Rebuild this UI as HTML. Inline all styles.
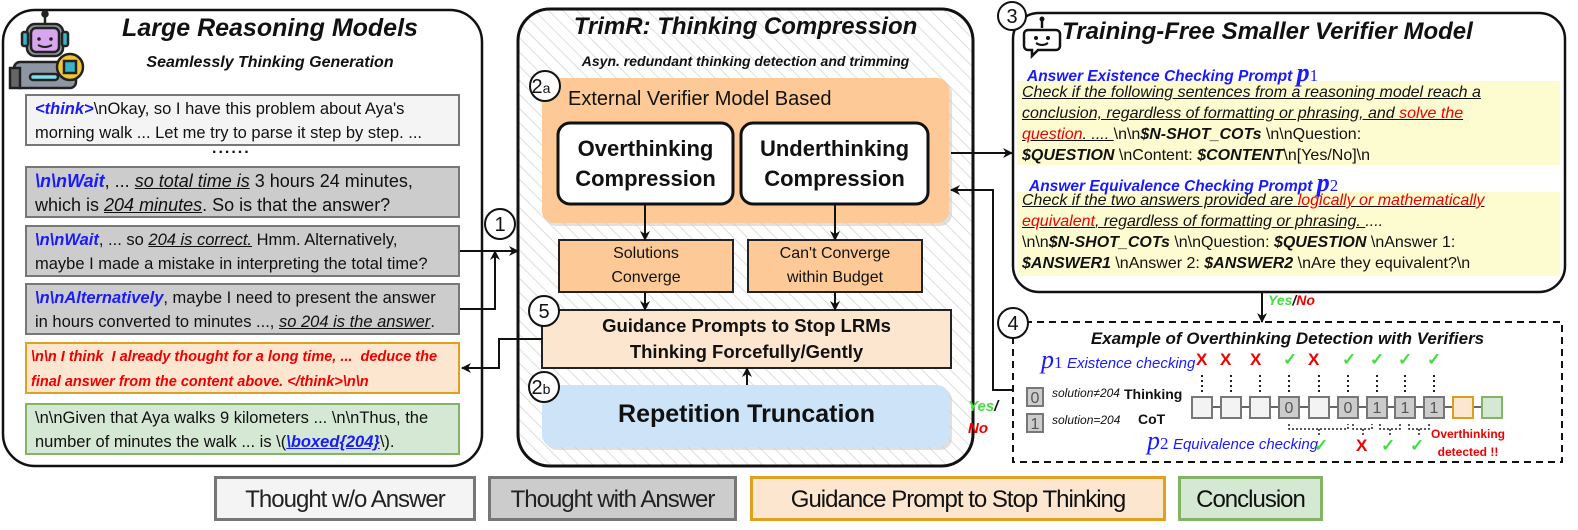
<!DOCTYPE html>
<html><head><meta charset="utf-8">
<style>
*{margin:0;padding:0;box-sizing:border-box}
body{width:1578px;height:530px;background:#fff;position:relative;overflow:hidden;font-family:"Liberation Sans",sans-serif;color:#111}
.a{position:absolute}
.bx{position:absolute;font-size:17px;line-height:24px;padding:1px 8px;border:2px solid #777;white-space:nowrap;overflow:hidden}
.bl{color:#1a1aff;font-weight:bold;font-style:italic}
.u{text-decoration:underline;font-style:italic}
.t{font-weight:bold;font-style:italic;white-space:nowrap}
.c{text-align:center}
.pr{font-size:16px;font-style:italic;line-height:21px;white-space:nowrap}
.rd{color:#e00}
.gr{color:#4d4}
.lg{position:absolute;top:476px;height:45px;font-size:24px;line-height:41px;text-align:center;color:#222;border:3px solid #777;letter-spacing:-1px}
.sm{font-size:15px;font-style:italic;white-space:nowrap}
</style></head><body>
<svg class="a" style="left:0;top:0" width="1578" height="530" viewBox="0 0 1578 530">
<defs>
<pattern id="h" width="10" height="10" patternUnits="userSpaceOnUse" patternTransform="rotate(-45)">
<line x1="0" y1="0" x2="0" y2="10" stroke="#ddd" stroke-width="2"/></pattern>
<marker id="ar" markerWidth="10" markerHeight="10" refX="9" refY="5" orient="auto" markerUnits="userSpaceOnUse"><path d="M0,0 L10,5 L0,10 L3,5z" fill="#111"/></marker>
</defs>
<rect x="3" y="10" width="479" height="456" rx="32" fill="#fff" stroke="#111" stroke-width="2.5"/>
<rect x="518" y="9" width="455" height="457" rx="32" fill="url(#h)" stroke="#111" stroke-width="3"/>
<rect x="545" y="81" width="407" height="145" rx="12" fill="#ccc" opacity=".6"/>
<rect x="542" y="78" width="407" height="145" rx="12" fill="#fcc997"/>
<rect x="558" y="123" width="175" height="81" rx="12" fill="#fff" stroke="#111" stroke-width="3"/>
<rect x="741" y="123" width="187" height="81" rx="12" fill="#fff" stroke="#111" stroke-width="3"/>
<rect x="559" y="240" width="174" height="52" fill="#fcc997" stroke="#222" stroke-width="2"/>
<rect x="748" y="240" width="174" height="52" fill="#fcc997" stroke="#222" stroke-width="2"/>
<rect x="542" y="310" width="409" height="58" fill="#fde6cf" stroke="#222" stroke-width="2"/>
<rect x="545" y="388" width="407" height="62" rx="12" fill="#ccc" opacity=".6"/>
<rect x="542" y="385" width="407" height="62" rx="12" fill="#cce3f8"/>
<g stroke="#111" stroke-width="2" fill="none" marker-end="url(#ar)">
<line x1="645" y1="204" x2="645" y2="240"/>
<line x1="835" y1="204" x2="835" y2="240"/>
<line x1="645" y1="292" x2="645" y2="310"/>
<line x1="835" y1="292" x2="835" y2="310"/>
<line x1="747" y1="385" x2="747" y2="368"/>
<polyline points="460,251 518,251"/>
<polyline points="460,309 495,309 495,251"/>
<polyline points="542,339 499,339 499,368 462,368"/>
<polyline points="951,153 1012,153"/>
<polyline points="1013,390 993,390 993,190 951,190"/>
<line x1="1262" y1="292" x2="1262" y2="322"/>
</g>
<rect x="1013" y="13" width="552" height="279" rx="26" fill="#fff" stroke="#111" stroke-width="2.5"/>
<rect x="1017" y="81" width="543" height="84" fill="#fdfbd0"/>
<rect x="1017" y="192" width="543" height="84" fill="#fdfbd0"/>
<rect x="1013" y="322" width="549" height="140" fill="none" stroke="#111" stroke-width="2" stroke-dasharray="7,5"/>
<g fill="#fff" stroke="#111" stroke-width="2">
<circle cx="500" cy="224" r="15"/><circle cx="545" cy="86" r="15"/><circle cx="544" cy="311" r="15"/>
<circle cx="544" cy="387" r="15"/><circle cx="1012" cy="16" r="14"/><circle cx="1013" cy="323" r="15"/>
</g>
<g font-family="Liberation Sans" font-size="20" text-anchor="middle" fill="#111">
<text x="500" y="231">1</text><text x="541" y="93">2<tspan font-size="14">a</tspan></text>
<text x="544" y="318">5</text><text x="541" y="394">2<tspan font-size="14">b</tspan></text>
<text x="1012" y="23">3</text><text x="1013" y="330">4</text>
</g>
<!-- robot LRM -->
<g stroke="#222" stroke-width="2.5">
<line x1="45" y1="14" x2="45" y2="24"/><circle cx="45" cy="14" r="2.5" fill="#222"/>
<rect x="27" y="24" width="36" height="32" rx="8" fill="#8f96a3"/>
<rect x="31" y="28" width="28" height="24" rx="5" fill="#d8a6ee"/>
<rect x="22" y="32" width="6" height="14" rx="2" fill="#39b3c7"/><rect x="62" y="32" width="6" height="14" rx="2" fill="#39b3c7"/>
<rect x="14" y="62" width="62" height="26" rx="6" fill="#8f96a3"/>
<rect x="10" y="68" width="10" height="20" fill="#666"/>
<rect x="30" y="74" width="28" height="6" rx="3" fill="#7ee0f0"/>
<circle cx="70" cy="67" r="13" fill="#f5c432"/><rect x="64" y="61" width="12" height="12" fill="#39b3c7"/>
</g>
<circle cx="39" cy="39" r="1.8" fill="#222"/><circle cx="51" cy="39" r="1.8" fill="#222"/>
<path d="M38 45 q7 4 14 0" stroke="#222" stroke-width="2" fill="none"/>
<!-- robot verifier -->
<g stroke="#111" stroke-width="2.5" fill="#fff">
<line x1="1042" y1="20" x2="1042" y2="28"/>
<path d="M1028 30 h28 a4 4 0 0 1 4 4 v12 a4 4 0 0 1 -4 4 h-18 l-6 6 v-6 h-4 a4 4 0 0 1 -4 -4 v-12 a4 4 0 0 1 4 -4z"/>
</g>
<circle cx="1042" cy="19" r="2.5" fill="#111"/><circle cx="1036" cy="38" r="2" fill="#111"/><circle cx="1048" cy="38" r="2" fill="#111"/>
<path d="M1036 43 q6 4 12 0" stroke="#111" stroke-width="2" fill="none"/>
<!-- chain -->
<line x1="1192" y1="407" x2="1502" y2="407" stroke="#666" stroke-width="2"/>
<g stroke="#777" stroke-width="2">
<rect x="1192" y="397" width="20" height="21" fill="#f3f3f3"/>
<rect x="1221" y="397" width="20" height="21" fill="#f3f3f3"/>
<rect x="1250" y="397" width="20" height="21" fill="#f3f3f3"/>
<rect x="1279" y="397" width="20" height="21" fill="#ccc"/>
<rect x="1309" y="397" width="20" height="21" fill="#f3f3f3"/>
<rect x="1338" y="397" width="20" height="21" fill="#ccc"/>
<rect x="1367" y="397" width="20" height="21" fill="#ccc"/>
<rect x="1395" y="397" width="20" height="21" fill="#ccc"/>
<rect x="1424" y="397" width="20" height="21" fill="#ccc"/>
<rect x="1453" y="397" width="20" height="21" fill="#fde6cf" stroke="#d9a020"/>
<rect x="1482" y="397" width="20" height="21" fill="#d5e8d4" stroke="#82b366"/>
<rect x="1027" y="388" width="16" height="18" fill="#ccc"/>
<rect x="1027" y="414" width="16" height="18" fill="#ccc"/>
</g>
<g font-size="16" text-anchor="middle" fill="#555" font-family="Liberation Sans">
<text x="1289" y="413">0</text><text x="1348" y="413">0</text><text x="1377" y="413">1</text><text x="1405" y="413">1</text><text x="1434" y="413">1</text>
<text x="1035" y="403">0</text><text x="1035" y="429">1</text>
</g>
<g stroke="#222" stroke-width="2" stroke-dasharray="2,3">
<line x1="1202" y1="375" x2="1202" y2="392"/><line x1="1231" y1="375" x2="1231" y2="392"/><line x1="1260" y1="375" x2="1260" y2="392"/>
<line x1="1289" y1="375" x2="1289" y2="392"/><line x1="1319" y1="375" x2="1319" y2="392"/><line x1="1348" y1="375" x2="1348" y2="392"/>
<line x1="1377" y1="375" x2="1377" y2="392"/><line x1="1405" y1="375" x2="1405" y2="392"/><line x1="1434" y1="375" x2="1434" y2="392"/>
</g>
<g stroke="#222" stroke-width="1.5" stroke-dasharray="2,2" fill="none">
<path d="M1289 424 v5 h59 v-5 M1319 429 v6"/>
<path d="M1353 424 v5 h19 v-5 M1363 429 v6"/>
<path d="M1380 424 v5 h20 v-5 M1390 429 v6"/>
<path d="M1409 424 v5 h20 v-5 M1419 429 v6"/>
</g>
</svg>

<div class="a t c" style="left:110px;top:14px;width:320px;font-size:25px">Large Reasoning Models</div>
<div class="a t c" style="left:110px;top:54px;width:320px;font-size:16px">Seamlessly Thinking Generation</div>
<div class="bx" style="left:25px;top:94px;width:435px;height:52px;background:#f4f4f4;font-size:16.5px"><span class="bl">&lt;think&gt;</span>\nOkay, so I have this problem about Aya's<br>morning walk ... Let me try to parse it step by step. ...</div>
<div class="a" style="left:212px;top:140px;font-size:16px;font-weight:bold;letter-spacing:2px">......</div>
<div class="bx" style="left:25px;top:166px;width:435px;height:52px;background:#ccc;font-size:18px"><span class="bl">\n\nWait</span>, ... <span class="u">so total time is</span> 3 hours 24 minutes,<br>which is <span class="u">204 minutes</span>. So is that the answer?</div>
<div class="bx" style="left:25px;top:225px;width:435px;height:52px;background:#ccc;font-size:16.5px"><span class="bl">\n\nWait</span>, ... so <span class="u">204 is correct.</span> Hmm. Alternatively,<br>maybe I made a mistake in interpreting the total time?</div>
<div class="bx" style="left:25px;top:283px;width:435px;height:52px;background:#ccc;font-size:16.5px"><span class="bl">\n\nAlternatively</span>, maybe I need to present the answer<br>in hours converted to minutes ..., <span class="u">so 204 is the answer</span>.</div>
<div class="bx" style="left:25px;top:342px;width:435px;height:52px;background:#fde6cf;border-color:#e0a020;color:#e00;font-weight:bold;font-style:italic;font-size:14.5px;line-height:25px;padding:1px 4px">\n\n I think&nbsp; I already thought for a long time, ...&nbsp; deduce the<br>final answer from the content above. &lt;/think&gt;\n\n</div>
<div class="bx" style="left:25px;top:403px;width:435px;height:52px;background:#d5e8d4;border-color:#82b366;font-size:16.5px">\n\nGiven that Aya walks 9 kilometers ... \n\nThus, the<br>number of minutes the walk ... is \(<span class="u" style="color:#1a1aff;font-weight:bold">\boxed{204}</span>\).</div>

<div class="a t c" style="left:518px;top:13px;width:455px;font-size:24px">TrimR: Thinking Compression</div>
<div class="a t c" style="left:518px;top:53px;width:455px;font-size:14px">Asyn. redundant thinking detection and trimming</div>
<div class="a" style="left:568px;top:88px;font-size:20px;white-space:nowrap">External Verifier Model Based</div>
<div class="a c" style="left:558px;top:134px;width:175px;font-size:22px;font-weight:bold;line-height:30px">Overthinking<br>Compression</div>
<div class="a c" style="left:741px;top:134px;width:187px;font-size:22px;font-weight:bold;line-height:30px">Underthinking<br>Compression</div>
<div class="a c" style="left:559px;top:242px;width:174px;font-size:16px;line-height:24px">Solutions<br>Converge</div>
<div class="a c" style="left:748px;top:242px;width:174px;font-size:16px;line-height:24px">Can't Converge<br>within Budget</div>
<div class="a c" style="left:542px;top:313px;width:409px;font-size:18.5px;font-weight:bold;line-height:26px">Guidance Prompts to Stop LRMs<br>Thinking Forcefully/Gently</div>
<div class="a c" style="left:542px;top:400px;width:409px;font-size:25px;font-weight:bold">Repetition Truncation</div>
<div class="a t" style="left:968px;top:396px;font-size:15px;line-height:22px"><span class="gr">Yes</span>/<br><span class="rd">No</span></div>

<div class="a t" style="left:1062px;top:18px;font-size:24px">Training-Free Smaller Verifier Model</div>
<div class="a t" style="left:1027px;top:58px;font-size:15.5px;color:#1a1aff">Answer Existence Checking Prompt <span style="font-family:'Liberation Serif';font-size:26px">p</span><span style="font-family:'Liberation Serif';font-style:normal;font-weight:normal;font-size:17px">1</span></div>
<div class="a pr" style="left:1022px;top:82px"><span style="text-decoration:underline">Check if the following sentences from a reasoning model reach a<br>conclusion, regardless of formatting or phrasing, and <span class="rd">solve the<br>question</span>. .... </span><span style="font-style:normal">\n\n</span><b>$N-SHOT_COTs</b><span style="font-style:normal"> \n\nQuestion:</span><br><b>$QUESTION</b><span style="font-style:normal"> \nContent: </span><b>$CONTENT</b><span style="font-style:normal">\n[Yes/No]\n</span></div>
<div class="a t" style="left:1029px;top:168px;font-size:15.5px;color:#1a1aff">Answer Equivalence Checking Prompt <span style="font-family:'Liberation Serif';font-size:26px">p</span><span style="font-family:'Liberation Serif';font-style:normal;font-weight:normal;font-size:17px">2</span></div>
<div class="a pr" style="left:1022px;top:190px"><span style="text-decoration:underline">Check if the two answers provided are <span class="rd">logically or mathematically<br>equivalent</span>, regardless of formatting or phrasing. </span>....<br><span style="font-style:normal">\n\n</span><b>$N-SHOT_COTs</b><span style="font-style:normal"> \n\nQuestion: </span><b>$QUESTION</b><span style="font-style:normal"> \nAnswer 1:</span><br><b>$ANSWER1</b><span style="font-style:normal"> \nAnswer 2: </span><b>$ANSWER2</b><span style="font-style:normal"> \nAre they equivalent?\n</span></div>
<div class="a t" style="left:1268px;top:292px;font-size:14px"><span class="gr">Yes</span>/<span class="rd">No</span></div>

<div class="a t c" style="left:1013px;top:329px;width:549px;font-size:17px">Example of Overthinking Detection with Verifiers</div>
<div class="a" style="left:1041px;top:345px;color:#1a1aff;white-space:nowrap"><span style="font-family:'Liberation Serif';font-style:italic;font-size:26px">p</span><span style="font-family:'Liberation Serif';font-size:17px">1</span> <span class="sm">Existence checking</span></div>
<div class="a" style="left:1147px;top:426px;color:#1a1aff;white-space:nowrap"><span style="font-family:'Liberation Serif';font-style:italic;font-size:26px">p</span><span style="font-family:'Liberation Serif';font-size:17px">2</span> <span class="sm">Equivalence checking</span></div>
<div class="a" style="left:1052px;top:386px;font-size:12px;font-style:italic">solution≠204</div>
<div class="a" style="left:1052px;top:413px;font-size:12px;font-style:italic">solution=204</div>
<div class="a" style="left:1124px;top:386px;font-size:14px;font-weight:bold">Thinking</div>
<div class="a" style="left:1138px;top:411px;font-size:14px;font-weight:bold">CoT</div>
<div class="a" style="left:0;top:350px;font-size:17px;font-weight:bold;line-height:20px">
<span class="a rd" style="left:1196px">X</span><span class="a rd" style="left:1220px">X</span><span class="a rd" style="left:1250px">X</span><span class="a gr" style="left:1283px">✓</span><span class="a rd" style="left:1308px">X</span><span class="a gr" style="left:1342px">✓</span><span class="a gr" style="left:1370px">✓</span><span class="a gr" style="left:1398px">✓</span><span class="a gr" style="left:1427px">✓</span>
</div>
<div class="a" style="left:0;top:436px;font-size:17px;font-weight:bold;line-height:20px">
<span class="a gr" style="left:1314px">✓</span><span class="a rd" style="left:1356px">X</span><span class="a gr" style="left:1381px">✓</span><span class="a gr" style="left:1410px">✓</span>
</div>
<div class="a rd c" style="left:1426px;top:425px;width:84px;font-size:12px;font-weight:bold;line-height:18px">Overthinking<br>detected !!</div>

<div class="lg" style="left:214px;width:262px;background:#f4f4f4">Thought w/o Answer</div>
<div class="lg" style="left:488px;width:249px;background:#ccc">Thought with Answer</div>
<div class="lg" style="left:750px;width:416px;background:#fde6cf;border-color:#e0a020;color:#111">Guidance Prompt to Stop Thinking</div>
<div class="lg" style="left:1178px;width:145px;background:#d5e8d4;border-color:#82b366;color:#111">Conclusion</div>
</body></html>
